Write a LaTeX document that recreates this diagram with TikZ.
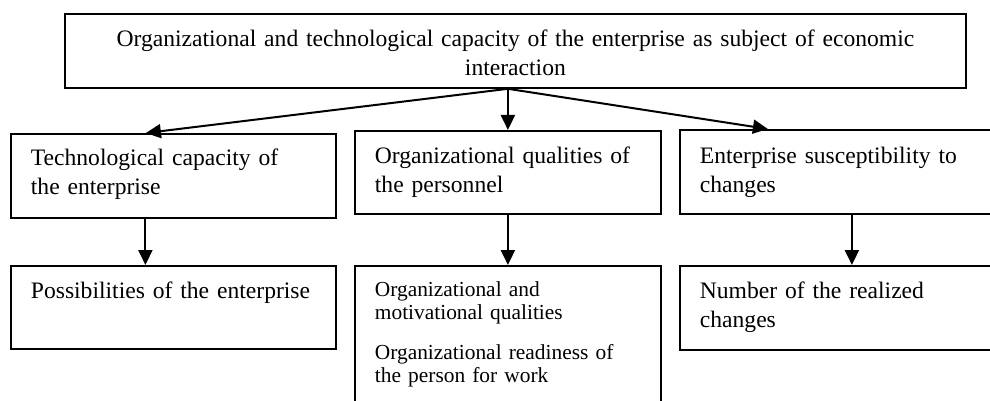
\documentclass[tikz,border=0pt]{standalone}
\usepackage{fontspec}
\setmainfont{Liberation Serif}
\usetikzlibrary{arrows.meta}
\newcommand{\bigfont}{\fontsize{23.6pt}{29pt}\selectfont}
\newcommand{\smallfont}{\fontsize{21.4pt}{23pt}\selectfont}

\begin{document}
\begin{tikzpicture}[x=1pt,y=-1pt,>={Triangle[length=15pt,width=14pt]},
  box/.style={draw,line width=1.8pt,anchor=north west,inner xsep=20pt,
    inner ysep=0pt,align=left,font=\bigfont},
  link/.style={->,line width=2pt}]
  \clip (0,0) rectangle (990,401);

  \node[box,align=center,text width=861pt,text height=33pt,text depth=41pt]
    (org) at (64,13)
    {Organizational and technological capacity of the enterprise as subject of economic\\interaction};

  % second row
  \node[box,text width=285pt,text height=32pt,text depth=52pt] (tech) at (10,133)
    {Technological capacity of\\the enterprise};
  \node[box,text width=266pt,text height=33pt,text depth=50pt] (pers) at (354,130)
    {Organizational qualities of\\the personnel};
  \node[box,text width=276pt,text height=34pt,text depth=50pt] (susc) at (679,129)
    {Enterprise susceptibility to\\changes};

  % third row (the middle box runs off the bottom)
  \node[box,text width=285pt,text height=33pt,text depth=50pt] (poss) at (10,265)
    {Possibilities of the enterprise};
  \node[box,font=\smallfont,text width=266pt,text height=31pt,text depth=122pt]
    (qual) at (354,265)
    {Organizational and\\motivational qualities\\[17pt]Organizational readiness of\\the person for work};
  \node[box,text width=276pt,text height=33pt,text depth=51pt] (real) at (679,265)
    {Number of the realized\\changes};

  \coordinate (hub) at (org.south -| pers.north);
  \draw[link] (hub) -- ([xshift=-27.5pt]tech.north);
  \draw[link] (hub) -- (pers.north);
  \draw[link] (hub) -- ([xshift=-70pt]susc.north);

  \draw[link] ([xshift=-28pt]tech.south) -- ([xshift=-28pt]poss.north);
  \draw[link] (pers.south) -- (qual.north);
  \draw[link] ([xshift=14pt]susc.south) -- ([xshift=14pt]real.north);
\end{tikzpicture}
\end{document}
